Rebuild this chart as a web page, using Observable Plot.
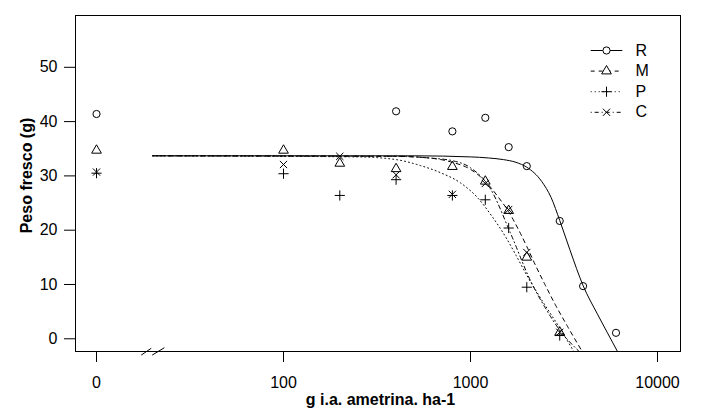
<!DOCTYPE html>
<html>
<head>
<meta charset="utf-8">
<script src="https://cdn.jsdelivr.net/npm/d3@7"></script>
<script src="https://cdn.jsdelivr.net/npm/@observablehq/plot@0.6"></script>
<style>
  html, body { margin: 0; padding: 0; background: #ffffff; }
  #chart svg { display: block; }
</style>
</head>
<body>
<div id="chart"></div>
<script>
// ---- observed data (g fresh weight) ----
const doses   = [0, 100, 200, 400, 800, 1200, 1600, 2000, 3000, 4000, 6000];
const valuesR = [41.4, null, null, 41.9, 38.2, 40.7, 35.3, 31.8, 21.7, 9.7, 1.1];
const valuesM = [34.7, 34.7, 32.3, 31.3, 31.7, 29.0, 23.6, 15.0, 1.2, null, null];
const valuesP = [30.5, 30.4, 26.4, 29.3, 26.4, 25.6, 20.4, 9.5, 0.6, null, null];
const valuesC = [30.7, 32.1, 33.6, 30.2, 26.6, 28.6, 23.8, 15.9, 1.2, null, null];

// ---- fitted curves ----
const curveDoseR = [20, 500, 1000, 1250, 1500, 1750, 2000, 2400, 2700, 3000, 3400, 4000, 4800, 5400, 6100];
const curveR     = [33.7, 33.7, 33.5, 33.3, 33.0, 32.5, 31.6, 29.0, 26.0, 21.8, 16.4, 9.8, 4.4, 1.1, -2.3];
const curveDoseM = [20, 400, 600, 800, 1000, 1200, 1400, 1600, 1800, 2000, 2250, 2500, 2850, 3300, 3950];
const curveM     = [33.7, 33.6, 33.3, 32.5, 31.2, 29.0, 26.2, 23.4, 20.2, 17.0, 13.2, 10.0, 6.2, 2.3, -2.3];
const curveDoseP = [20, 250, 400, 540, 690, 885, 1090, 1300, 1570, 1750, 2000, 2470, 3000, 3560];
const curveP     = [33.7, 33.5, 33.0, 31.9, 30.6, 28.7, 26.0, 22.6, 18.3, 15.4, 11.7, 6.5, 2.0, -2.3];
const curveDoseC = [20, 400, 600, 800, 1000, 1280, 1630, 2100, 2500, 3000, 3800];
const curveC     = [33.7, 33.6, 33.3, 32.8, 31.5, 27.6, 19.6, 10.6, 5.8, 1.6, -2.3];

const seriesNames = ["R", "M", "P", "C"];
const xTicks = [0, 100, 1000, 10000];
const yTicks = [0, 10, 20, 30, 40, 50];
const zeroDose = 10;   // where dose 0 sits on the broken log axis
const breakDose = 20;  // axis break position

// ---- R-style plotting symbols ----
const rad = v => Math.sqrt(v / Math.PI);
const symTriangle = { draw(c, s) { const r = rad(s);
  c.moveTo(0, -1.555 * r); c.lineTo(1.347 * r, 0.778 * r); c.lineTo(-1.347 * r, 0.778 * r); c.closePath(); } };
const symPlus = { draw(c, s) { const r = rad(s) * 1.414;
  c.moveTo(-r, 0); c.lineTo(r, 0); c.moveTo(0, -r); c.lineTo(0, r); } };
const symTimes = { draw(c, s) { const r = rad(s);
  c.moveTo(-r, -r); c.lineTo(r, r); c.moveTo(-r, r); c.lineTo(r, -r); } };
const symSeg = { draw(c) { c.moveTo(-15.8, 0); c.lineTo(15.8, 0); } };
const symBreak = { draw(c) { c.moveTo(-11.6, 3.6); c.lineTo(-1.6, -3.2); c.moveTo(-0.6, 3.6); c.lineTo(11.6, -3.8); } };

const symbols = { R: "circle", M: symTriangle, P: symPlus, C: symTimes };
const dashes  = { R: null, M: "4,4", P: "1,3", C: "1,3,4,3" };
const obs     = { R: valuesR, M: valuesM, P: valuesP, C: valuesC };
const curves  = { R: [curveDoseR, curveR], M: [curveDoseM, curveM], P: [curveDoseP, curveP], C: [curveDoseC, curveC] };

const xPos = d => (d === 0 ? zeroDose : d);
const symR = 3.6;

const marks = [Plot.frame({ stroke: "black" })];

seriesNames.forEach((name, i) => {
  const pts = doses.map((d, j) => ({ dose: d, value: obs[name][j] })).filter(p => p.value != null);
  const [cd, cv] = curves[name];
  const line = cd.map((d, j) => ({ dose: d, value: cv[j] }));
  marks.push(Plot.line(line, {
    x: "dose", y: "value", stroke: "black", strokeWidth: 1,
    strokeDasharray: dashes[name], curve: "monotone-x", clip: true
  }));
  marks.push(Plot.dot(pts, {
    x: d => xPos(d.dose), y: "value", symbol: () => symbols[name], r: symR,
    fill: "none", stroke: "black", strokeWidth: 1
  }));
  // legend entry
  const dy = 35 + i * 20.6;
  marks.push(Plot.dot([name], { frameAnchor: "top-left", dx: 531, dy, symbol: () => symSeg, r: 1,
    fill: "none", stroke: "black", strokeWidth: 1, strokeDasharray: dashes[name] }));
  marks.push(Plot.dot([name], { frameAnchor: "top-left", dx: 531, dy, symbol: () => symbols[name], r: symR,
    fill: "white", stroke: "black", strokeWidth: 1 }));
  marks.push(Plot.text([name], { frameAnchor: "top-left", dx: 560, dy, text: d => d,
    textAnchor: "start", lineAnchor: "middle", fontSize: 16, fill: "black" }));
});

// axis break marks
marks.push(Plot.dot([breakDose], { x: d => d, frameAnchor: "bottom", symbol: () => symBreak, r: 1,
  fill: "none", stroke: "black", strokeWidth: 1 }));

marks.push(Plot.axisX(xTicks.map(xPos), {
  tickSize: 11, tickPadding: 14, fontSize: 16, label: null, stroke: "black", fill: "black",
  tickFormat: d => (d === zeroDose ? "0" : String(d))
}));
marks.push(Plot.axisY(yTicks, {
  tickSize: 11, tickPadding: 7, fontSize: 16, label: null, stroke: "black", fill: "black"
}));
marks.push(Plot.text(["g i.a. ametrina. ha-1"], { frameAnchor: "bottom", dx: 2.5, dy: 48.5, text: d => d,
  fontSize: 16, fontWeight: "bold", fill: "black", textAnchor: "middle", lineAnchor: "middle" }));
marks.push(Plot.text(["Peso fresco (g)"], { frameAnchor: "left", dx: -49, dy: -8, rotate: -90, text: d => d,
  fontSize: 16, fontWeight: "bold", fill: "black", textAnchor: "middle", lineAnchor: "middle" }));

const chart = Plot.plot({
  width: 719, height: 419,
  marginLeft: 75, marginRight: 39, marginTop: 15, marginBottom: 68,
  style: { fontFamily: "'Liberation Sans', Arial, sans-serif", fontSize: "16px", color: "black", background: "white" },
  x: { type: "log", domain: [7.72, 13275] },
  y: { domain: [-2.34, 59.54] },
  marks
});
document.getElementById("chart").appendChild(chart);
</script>
</body>
</html>
